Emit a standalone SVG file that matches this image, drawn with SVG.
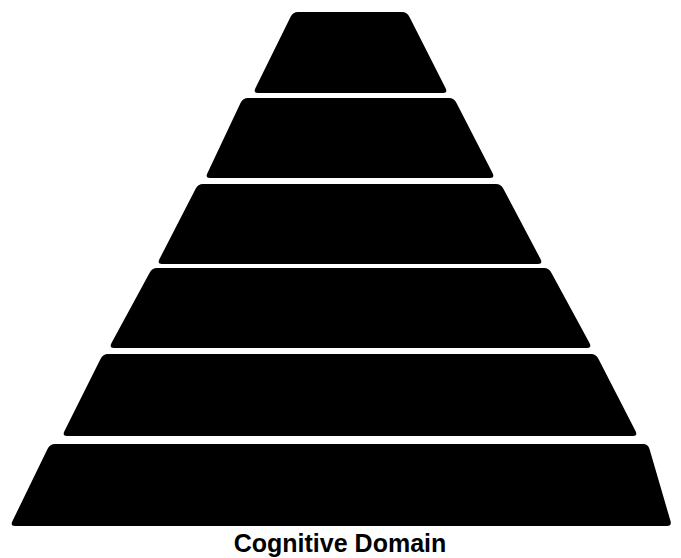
<svg xmlns="http://www.w3.org/2000/svg" width="681" height="558" viewBox="0 0 681 558">
<style>
.layer{fill:#000;stroke:none}
.caption{font-family:"Liberation Sans",Arial,sans-serif;font-weight:bold;font-size:25px;fill:#000}
</style>
<rect width="681" height="558" fill="#fff"/>
<g id="layer1"><path class="layer" d="M298,12 L402,12 Q407,12 409.5,17 L445.5,88 Q448,93 443,93 L258,93 Q253,93 255.5,88 L290.5,17 Q293,12 298,12Z"/></g>
<g id="layer2"><path class="layer" d="M248,98 L449,98 Q454,98 456.5,103 L492.5,173 Q495,178 490,178 L210,178 Q205,178 207.5,173 L240.5,103 Q243,98 248,98Z"/></g>
<g id="layer3"><path class="layer" d="M203,184 L496,184 Q501,184 503.5,189 L540.5,259 Q543,264 538,264 L162,264 Q157,264 159.5,259 L195.5,189 Q198,184 203,184Z"/></g>
<g id="layer4"><path class="layer" d="M157,268 L544,268 Q549,268 551.5,273 L589.5,343 Q592,348 587,348 L114,348 Q109,348 111.5,343 L149.5,273 Q152,268 157,268Z"/></g>
<g id="layer5"><path class="layer" d="M108,354 L591,354 Q596,354 598.5,359 L635.5,431 Q638,436 633,436 L67,436 Q62,436 64.5,431 L100.5,359 Q103,354 108,354Z"/></g>
<g id="layer6"><path class="layer" d="M55,444 L643,444 Q648,444 649.5,449 L670.5,521 Q672,526 667,526 L15,526 Q10,526 12.5,521 L47.5,449 Q50,444 55,444Z"/></g>
<g id="connectors"></g>
<text class="caption" x="340" y="552" text-anchor="middle">Cognitive Domain</text>
</svg>
